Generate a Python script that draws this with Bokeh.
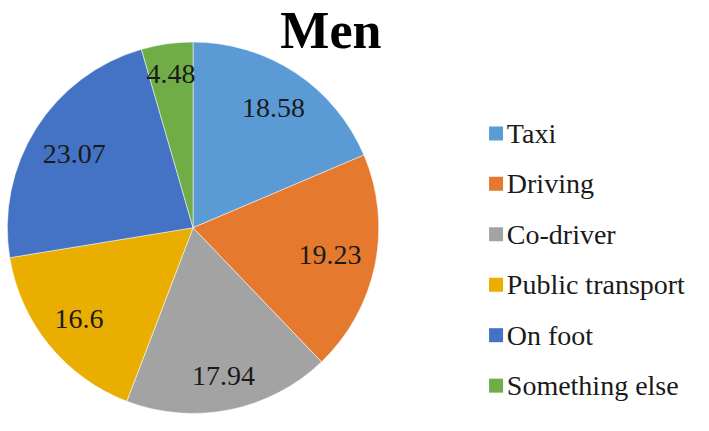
import math
from bokeh.plotting import figure
from bokeh.models import Range1d, ColumnDataSource
from bokeh.core.properties import value
from bokeh.embed import file_html
from bokeh.resources import INLINE

# ---- data ----
categories = ["Taxi", "Driving", "Co-driver", "Public transport", "On foot", "Something else"]
values = [18.58, 19.23, 17.94, 16.6, 23.07, 4.48]
labels = ["18.58", "19.23", "17.94", "16.6", "23.07", "4.48"]
colors = ["#5B9BD5", "#E5792E", "#A3A3A3", "#E9AE00", "#4472C4", "#70AD47"]
title_text = "Men"

# ---- layout: data units follow the reference picture (709 x 431, y upwards) ----
W, H = 693, 415
REF_W, REF_H = 709, 431
def py(y):  # reference y (top-down) -> data y
    return REF_H - y

cx, cy = 197, py(236)
R = 190
label_size = 28
legend_size = 28

p = figure(width=W, height=H, output_backend="svg", toolbar_location=None,
           x_range=Range1d(0, REF_W), y_range=Range1d(0, REF_H),
           x_axis_type=None, y_axis_type=None, min_border=0)
p.outline_line_color = None
p.grid.visible = False
p.background_fill_color = "white"
p.border_fill_color = "white"

total = sum(values)
starts, ends, lx, ly = [], [], [], []
cum = 0.0
Rp = R - 14
for v, lab in zip(values, labels):
    a0 = cum / total * 2 * math.pi
    cum += v
    a1 = cum / total * 2 * math.pi
    starts.append(math.pi / 2 - a1)
    ends.append(math.pi / 2 - a0)
    mid = math.pi / 2 - (a0 + a1) / 2
    ux, uy = math.cos(mid), math.sin(mid)
    w = sum(0.25 if ch == "." else 0.5 for ch in lab) * label_size
    hw, hh = w / 2, 10
    c = (math.copysign(hw, ux), math.copysign(hh, uy))
    uc = ux * c[0] + uy * c[1]
    d = -uc + math.sqrt(uc * uc - (c[0] ** 2 + c[1] ** 2) + Rp * Rp)
    lx.append(cx + d * ux)
    ly.append(cy + d * uy)

src = ColumnDataSource(dict(start=starts, end=ends, color=colors, cat=categories,
                            lx=lx, ly=ly, lab=labels))
p.wedge(x=cx, y=cy, radius=R, start_angle="start", end_angle="end",
        fill_color="color", line_color="white", line_alpha=0.5, line_width=1, source=src)

p.text(x="lx", y="ly", text="lab", source=src, text_font=value("Liberation Serif"),
       text_font_size=f"{label_size}px", text_align="center", text_baseline="middle",
       text_color="#1a1a1a")

# title
p.text(x=[338], y=[py(31)], text=[title_text], text_font=value("Liberation Serif"),
       text_font_style="bold", text_font_size="52px", text_align="center",
       text_baseline="middle", text_color="black")

# legend
row0, step = 138, 52.4
rows = [row0 + i * step for i in range(len(categories))]
leg = ColumnDataSource(dict(x=[507] * len(rows), y=[py(r) for r in rows],
                            tx=[518] * len(rows),
                            color=colors, cat=categories))
p.scatter(x="x", y="y", marker="square", size=14, fill_color="color", line_color=None, source=leg)
p.text(x="tx", y="y", text="cat", source=leg, text_font=value("Liberation Serif"),
       text_font_size=f"{legend_size}px", text_align="left", text_baseline="middle",
       text_color="#1a1a1a")

open("out.html", "w").write(file_html(p, INLINE))
